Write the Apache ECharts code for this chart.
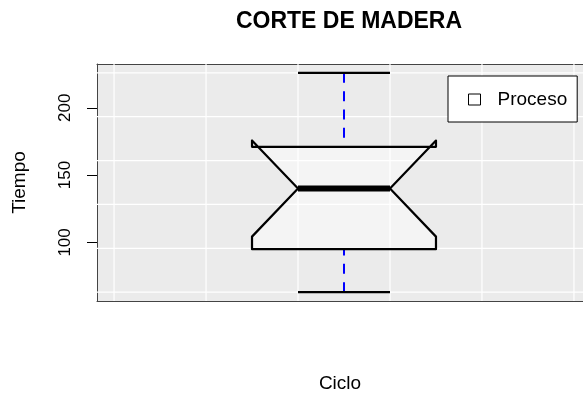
<!DOCTYPE html>
<html><head><meta charset="utf-8">
<script src="https://cdn.jsdelivr.net/npm/echarts@6/dist/echarts.min.js"></script>
<style>html,body{margin:0;padding:0;background:#fff}#c{width:583px;height:394px}</style>
</head><body><div id="c"></div><script>
// ---- data ----
const categories = ['Proceso'];
const positions = [1];
const whiskerLow = [63];
const q1 = [95];
const median = [140];
const q3 = [171];
const whiskerHigh = [226];
const notchLow = [104.3];
const notchHigh = [175.7];
const yTicks = [100, 150, 200];

// ---- styling constants ----
const BOX_HALF = 0.1862;
const WAIST_HALF = 0.0931;
const yMinAxis = 56.48, yMaxAxis = 232.52;
const xMinAxis = 0.5, xMaxAxis = 0.5 + 486 / 494; // plot region runs past the right edge of the window

const boxData = positions.map((p, i) => [p, whiskerLow[i], q1[i], median[i], q3[i], whiskerHigh[i], notchLow[i], notchHigh[i]]);

// background grid lines (at whisker ends / cap ends, as in the reference)
const lo = Math.min(...whiskerLow), hi = Math.max(...whiskerHigh);
const yGrid = [0,1,2,3,4,5].map(k => lo + k * (hi - lo) / 5);
const xGrid = [];
for (let k = -2; k <= 3; k++) xGrid.push(positions[0] - WAIST_HALF + k * 2 * WAIST_HALF);

function renderGrid(params, api) {
  const cs = params.coordSys;
  const children = [];
  yGrid.forEach(v => {
    const y = api.coord([0.5, v])[1];
    children.push({type:'line', shape:{x1:cs.x, y1:y, x2:cs.x+cs.width, y2:y}, style:{stroke:'#ffffff', lineWidth:1.2}});
  });
  xGrid.forEach(v => {
    const x = api.coord([v, lo])[0];
    children.push({type:'line', shape:{x1:x, y1:cs.y, x2:x, y2:cs.y+cs.height}, style:{stroke:'#ffffff', lineWidth:1.2}});
  });
  return {type:'group', children};
}

function renderBox(params, api) {
  const x = api.value(0);
  const cx = api.coord([x, api.value(3)])[0];
  const y = i => api.coord([x, api.value(i)])[1];
  const yMin = y(1), yQ1 = y(2), yMed = y(3), yQ3 = y(4), yMax = y(5), yNl = y(6), yNh = y(7);
  const half = api.size([BOX_HALF, 0])[0];
  const waist = api.size([WAIST_HALF, 0])[0];
  const xl = cx - half, xr = cx + half, ml = cx - waist, mr = cx + waist;
  const dash = {stroke:'#0000ff', lineWidth:2, lineDash:[10, 8.35], fill:null};
  const blk = {stroke:'#000', lineWidth:2.2, fill:null};
  return {type:'group', children:[
    {type:'line', shape:{x1:cx, y1:yMax, x2:cx, y2:yQ3}, style:dash},
    {type:'line', shape:{x1:cx, y1:yMin, x2:cx, y2:yQ1}, style:dash},
    {type:'line', shape:{x1:ml, y1:yMax, x2:mr, y2:yMax}, style:blk},
    {type:'line', shape:{x1:ml, y1:yMin, x2:mr, y2:yMin}, style:blk},
    {type:'polygon', shape:{points:[
      [xl, yQ1], [xl, yNl], [ml, yMed], [xl, yNh], [xl, yQ3],
      [xr, yQ3], [xr, yNh], [mr, yMed], [xr, yNl], [xr, yQ1]
    ]}, style:{fill:'rgba(255,255,255,0.45)', stroke:'#000', lineWidth:2.2, lineJoin:'round'}},
    {type:'line', shape:{x1:ml, y1:yMed, x2:mr, y2:yMed}, style:{stroke:'#000', lineWidth:6}}
  ]};
}

const chart = echarts.init(document.getElementById('c'), null, {renderer:'canvas'});
chart.setOption({
  animation: false,
  backgroundColor: '#ffffff',
  textStyle: {fontFamily: 'Liberation Sans, Arial, sans-serif'},
  title: {
    text: 'CORTE DE MADERA', left: 344, top: 5, textAlign: 'center',
    textStyle: {fontFamily:'Liberation Sans, Arial, sans-serif', fontWeight:'bold', fontSize:23, color:'#000'}
  },
  legend: {
    data: [{name: categories[0], icon: 'rect'}],
    left: 448, top: 76, orient: 'vertical',
    backgroundColor: '#fff', borderColor: '#000', borderWidth: 1, borderRadius: 0,
    padding: [14, 10, 13, 20],
    itemWidth: 12, itemHeight: 11,
    itemStyle: {color: '#fff', borderColor: '#000', borderWidth: 1},
    textStyle: {fontSize: 19, color: '#000', padding: [0, 0, 0, 12]},
    selectedMode: false
  },
  grid: {left: 97, top: 64, width: 486, height: 237, show: true, backgroundColor: '#ebebeb', borderWidth: 0,
         containLabel: false, outerBoundsMode: 'none'},
  xAxis: [{
    type: 'value', min: xMinAxis, max: xMaxAxis, position: 'bottom',
    name: 'Ciclo', nameLocation: 'middle', nameGap: 73,
    nameTextStyle: {fontSize: 19, color: '#000'},
    axisLine: {show: true, lineStyle: {color: '#444'}},
    axisTick: {show: false}, axisLabel: {show: false}, splitLine: {show: false}
  }, {
    type: 'value', min: xMinAxis, max: xMaxAxis, position: 'top',
    axisLine: {show: true, lineStyle: {color: '#444'}},
    axisTick: {show: false}, axisLabel: {show: false}, splitLine: {show: false}
  }],
  yAxis: {
    type: 'value', min: yMinAxis, max: yMaxAxis,
    name: 'Tiempo', nameLocation: 'middle', nameGap: 68,
    nameTextStyle: {fontSize: 19, color: '#000'},
    axisLine: {show: true, lineStyle: {color: '#444'}},
    axisTick: {show: true, length: 10, customValues: yTicks, lineStyle: {color: '#000'}},
    axisLabel: {show: true, customValues: yTicks, rotate: 90, fontSize: 17, color: '#000', margin: 23},
    splitLine: {show: false}
  },
  series: [
    {type: 'custom', name: 'bg', silent: true, z: 1, renderItem: renderGrid, data: [[1, lo]], clip: false, encode:{x:0, y:1}},
    {type: 'custom', name: categories[0], z: 2, renderItem: renderBox, data: boxData,
     itemStyle: {color: '#fff', borderColor: '#000'},
     encode: {x: 0, y: [1,2,3,4,5]}}
  ]
});
</script></body></html>
